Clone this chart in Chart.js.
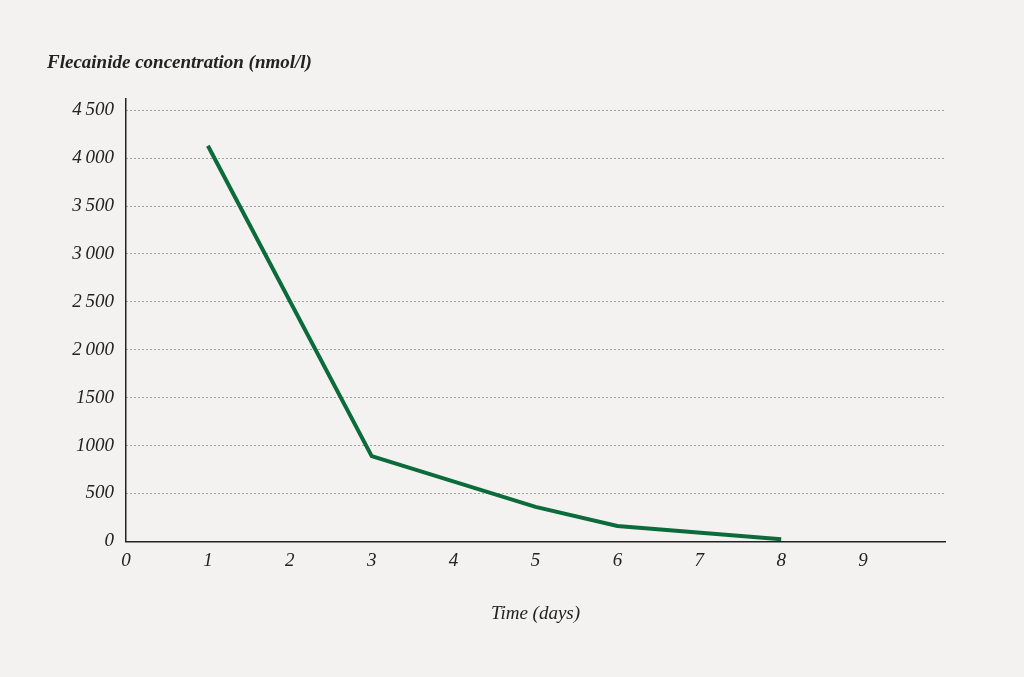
<!DOCTYPE html>
<html><head><meta charset="utf-8">
<script src="https://cdn.jsdelivr.net/npm/chart.js@4"></script>
<style>html,body{margin:0;background:#f4f2f0}#c{display:block}</style>
</head><body>
<div style="width:1024px;height:677px"><canvas id="c"></canvas></div>
<script>
var days = [1, 3, 5, 6, 8]
var concentration = [4130, 890, 360, 160, 22]
var yTicks = [0, 500, 1000, 1500, 2000, 2500, 3000, 3500, 4000, 4500]

var font = { family: 'Liberation Serif', style: 'italic', size: 19 }
function fmt(v) { return v >= 2000 ? String(v).replace(/(\d)(\d{3})$/, '$1\u2009$2') : String(v) }

new Chart(document.getElementById('c'), {
    type: 'line',
    data: {
        datasets: [{
            data: days.map(function (d, i) { return { x: d, y: concentration[i] } }),
            borderColor: '#0b6b3a',
            borderWidth: 4,
            pointRadius: 0,
            tension: 0
        }]
    },
    options: {
        responsive: true,
        maintainAspectRatio: false,
        animation: false,
        layout: { padding: { left: 47, right: 79, top: 52, bottom: 48 } },
        plugins: {
            legend: { display: false },
            tooltip: { enabled: false },
            title: {
                display: true, align: 'start', text: 'Flecainide concentration (nmol/l)',
                color: '#222', font: font, padding: { top: 0, bottom: 24 }
            }
        },
        scales: {
            x: {
                type: 'linear', min: 0, max: 10,
                ticks: { stepSize: 1, color: '#222', font: font, padding: 8,
                    callback: function (v) { return v < 10 ? v : '' } },
                grid: { display: false, drawTicks: false },
                border: { color: '#222', width: 1.5 },
                title: { display: true, text: 'Time (days)', color: '#222', font: font, padding: { top: 22 } }
            },
            y: {
                min: 0, max: 4620,
                afterBuildTicks: function (s) { s.ticks = yTicks.map(function (v) { return { value: v } }) },
                afterFit: function (s) { s.width = 79 },
                ticks: { color: '#222', font: font, padding: 12, callback: function (v) { return fmt(v) } },
                grid: {
                    color: function (c) { return c.tick && c.tick.value === 0 ? 'rgba(0,0,0,0)' : '#555' },
                    lineWidth: 1, drawTicks: false
                },
                border: { color: '#222', width: 1.5, dash: [1, 3] },
                beforeInit: null
            }
        }
    },
    plugins: [{
        id: 'dots',
        beforeDraw: function (chart) {
            var g = chart.scales.y
            g.options.grid.borderDash = [1, 3]
        }
    }]
})
</script>
</body></html>
